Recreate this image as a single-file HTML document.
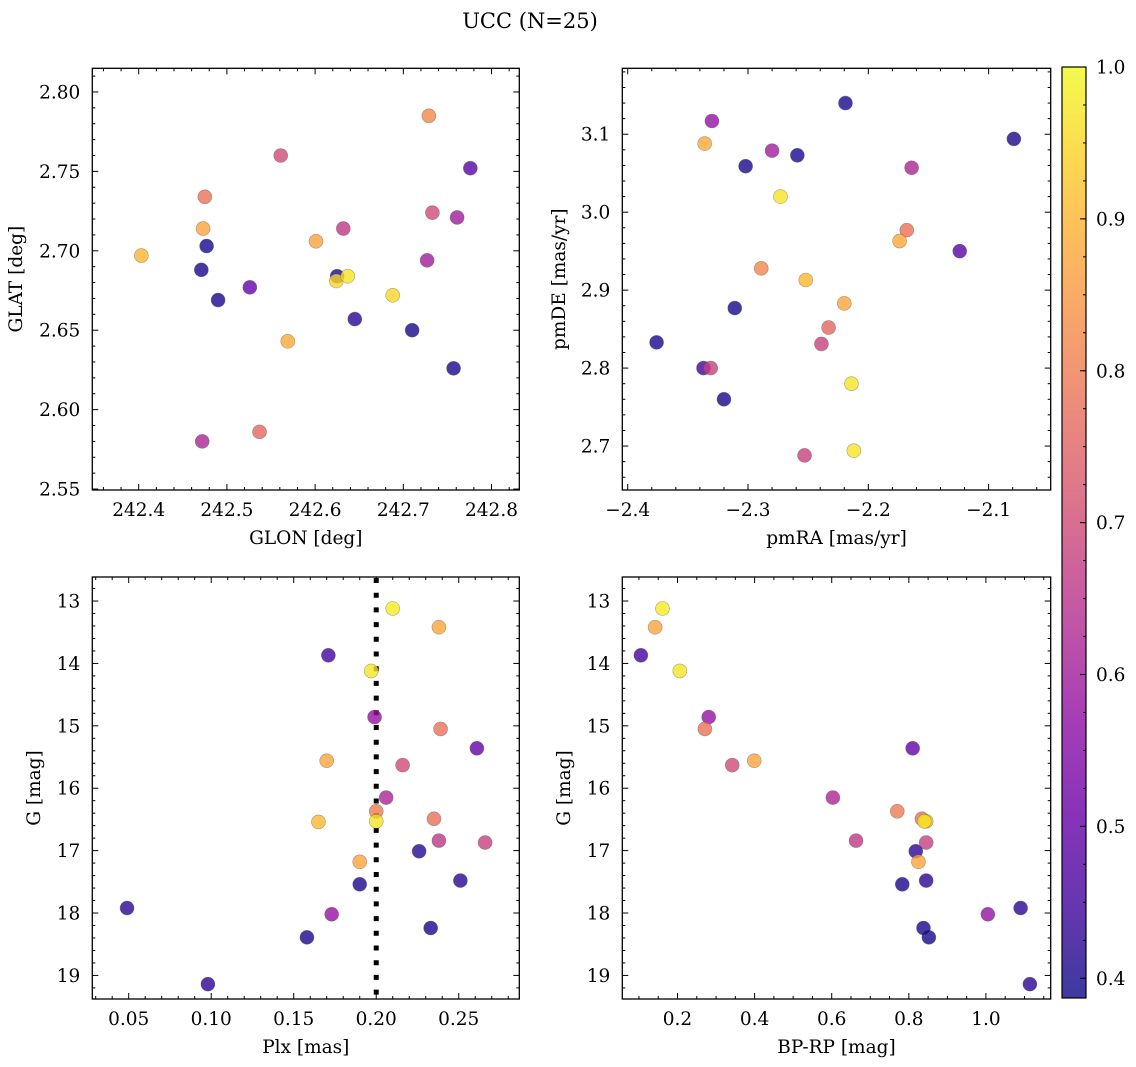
<!DOCTYPE html>
<html><head><meta charset="utf-8">
<style>
html,body{margin:0;padding:0;background:#fff;}
svg{display:block;font-family:"DejaVu Serif","Liberation Serif",serif;}
</style></head>
<body>
<svg id="fig" width="1136" height="1067" viewBox="0 0 1136 1067" xmlns="http://www.w3.org/2000/svg">
<text x="530" y="28" text-anchor="middle" font-size="21">UCC (N=25)</text>
</svg>
<script>
// ---- data ----
const p1Glon = [242.729,242.561,242.776,242.475,242.733,242.761,242.473,242.632,242.477,242.601,242.403,242.727,242.471,242.625,242.624,242.637,242.526,242.490,242.688,242.645,242.710,242.569,242.757,242.537,242.472];
const p1Glat = [2.785,2.760,2.752,2.734,2.724,2.721,2.714,2.714,2.703,2.706,2.697,2.694,2.688,2.684,2.681,2.684,2.677,2.669,2.672,2.657,2.650,2.643,2.626,2.586,2.580];
const p1Prob = [0.82,0.70,0.48,0.78,0.70,0.60,0.87,0.66,0.40,0.87,0.90,0.60,0.40,0.40,0.95,0.97,0.50,0.40,0.95,0.42,0.40,0.88,0.40,0.76,0.62];

const p2Pmra = [-2.219,-2.330,-2.336,-2.280,-2.259,-2.302,-2.079,-2.164,-2.273,-2.168,-2.174,-2.124,-2.289,-2.252,-2.220,-2.311,-2.233,-2.239,-2.376,-2.337,-2.331,-2.320,-2.214,-2.253,-2.212];
const p2Pmde = [3.140,3.117,3.088,3.079,3.073,3.059,3.094,3.057,3.020,2.977,2.963,2.950,2.928,2.913,2.883,2.877,2.852,2.831,2.833,2.800,2.800,2.760,2.780,2.688,2.694];
const p2Prob = [0.40,0.58,0.88,0.60,0.40,0.40,0.40,0.62,0.97,0.78,0.88,0.48,0.82,0.90,0.87,0.40,0.76,0.68,0.40,0.45,0.68,0.40,0.97,0.68,0.97];

const p3Plx = [0.210,0.238,0.171,0.197,0.199,0.239,0.261,0.170,0.216,0.206,0.200,0.200,0.165,0.235,0.238,0.266,0.226,0.190,0.190,0.251,0.049,0.173,0.158,0.233,0.098];
const p3G = [13.12,13.42,13.87,14.12,14.86,15.05,15.36,15.56,15.63,16.15,16.37,16.53,16.54,16.49,16.84,16.87,17.01,17.18,17.54,17.48,17.92,18.02,18.39,18.24,19.14];
const p3Prob = [0.98,0.87,0.45,0.97,0.58,0.78,0.50,0.87,0.70,0.62,0.80,0.97,0.90,0.78,0.66,0.68,0.42,0.87,0.40,0.42,0.42,0.58,0.40,0.40,0.42];

const p4Bprp = [0.161,0.142,0.105,0.206,0.281,0.271,0.810,0.342,0.399,0.603,0.770,0.834,0.845,0.840,0.663,0.845,0.818,0.825,0.783,0.845,1.090,1.005,0.852,0.838,1.114];
const p4G = [13.12,13.42,13.87,14.12,14.86,15.05,15.36,15.63,15.56,16.15,16.37,16.49,16.53,16.53,16.84,16.87,17.01,17.18,17.54,17.48,17.92,18.02,18.39,18.24,19.14];
const p4Prob = [0.98,0.87,0.45,0.97,0.58,0.78,0.50,0.70,0.87,0.62,0.80,0.78,0.90,0.97,0.66,0.68,0.42,0.87,0.40,0.42,0.42,0.58,0.40,0.40,0.42];

const plxLine = [0.2];
const cbTicks = [0.4,0.5,0.6,0.7,0.8,0.9,1.0];
const cbMin = 0.387, cbMax = 1.0;

// ---- helpers ----
const NS = "http://www.w3.org/2000/svg";
const svg = document.getElementById('fig');
const TF = 18.5, AF = 18.5;
function mk(tag, attrs, parent){
  const e = document.createElementNS(NS, tag);
  for (const k in attrs) e.setAttribute(k, attrs[k]);
  (parent||svg).appendChild(e);
  return e;
}
const plasma = [[13,8,135],[65,4,157],[106,0,168],[143,13,164],[177,42,144],[204,71,120],[225,100,98],[242,132,75],[252,166,54],[252,206,37],[240,249,33]];
function cmap(v){
  let t = (v-cbMin)/(cbMax-cbMin); t=Math.max(0,Math.min(1,t));
  const f = t*10, i = Math.min(9, Math.floor(f)), r = f-i;
  const a = plasma[i], b = plasma[i+1];
  return 'rgb('+a.map((c,k)=>Math.round(c+(b[k]-c)*r)).join(',')+')';
}
function fmt(v, d){ let s = v.toFixed(d); if (v<0) s = '\u2212'+s.slice(1); return s; }

function panel(cfg){
  const g = mk('g', {});
  
  
  const L=cfg.L,R=cfg.R,T=cfg.T,B=cfg.B;
  const sx = v => L + (v-cfg.x0)/(cfg.x1-cfg.x0)*(R-L);
  const sy = cfg.invY ? (v => T + (v-cfg.y0)/(cfg.y1-cfg.y0)*(B-T)) : (v => B - (v-cfg.y0)/(cfg.y1-cfg.y0)*(B-T));
  const xlo=Math.min(cfg.x0,cfg.x1), xhi=Math.max(cfg.x0,cfg.x1);
  const ylo=Math.min(cfg.y0,cfg.y1), yhi=Math.max(cfg.y0,cfg.y1);
  const tg = mk('g', {stroke:'#000','stroke-width':1}, g);
  
  
  for (let k=Math.ceil(xlo/cfg.xmin-1e-6); k*cfg.xmin<=xhi+1e-9; k++){
    const v=k*cfg.xmin, x=sx(v);
    const major = Math.abs(v/cfg.xmaj - Math.round(v/cfg.xmaj))<1e-6;
    const len = major?6:3;
    mk('line',{x1:x,x2:x,y1:B,y2:B-len},tg); mk('line',{x1:x,x2:x,y1:T,y2:T+len},tg);
    if (major){
      const t = mk('text',{x:x,y:B+26,'text-anchor':'middle','font-size':TF,stroke:'none'},g);
       
      t.textContent = fmt(v, cfg.xd);
    }
  }
  for (let k=Math.ceil(ylo/cfg.ymin-1e-6); k*cfg.ymin<=yhi+1e-9; k++){
    const v=k*cfg.ymin, y=sy(v);
    const major = Math.abs(v/cfg.ymaj - Math.round(v/cfg.ymaj))<1e-6;
    const len = major?6:3;
    mk('line',{x1:L,x2:L+len,y1:y,y2:y},tg); mk('line',{x1:R,x2:R-len,y1:y,y2:y},tg);
    if (major){
      const t = mk('text',{x:L-12,y:y+6.5,'text-anchor':'end','font-size':TF},g);
       
      t.textContent = fmt(v, cfg.yd);
    }
  }
  const xl = mk('text',{x:(L+R)/2,y:B+54,'text-anchor':'middle','font-size':AF},g);
   
  xl.textContent = cfg.xlabel;
  const yl = mk('text',{x:cfg.ylx,y:(T+B)/2,'text-anchor':'middle','font-size':AF,transform:'rotate(-90 '+cfg.ylx+' '+(T+B)/2+')'},g);
   
  yl.textContent = cfg.ylabel;
  if (cfg.vline){
    cfg.vline.forEach(v=>{
      const l = mk('line',{x1:sx(v),x2:sx(v),y1:T+1,y2:B,stroke:'#000','stroke-width':5,'stroke-dasharray':'5 9.7'},g);
       
    });
  }
  for (let i=0;i<cfg.xs.length;i++){
    const c = mk('circle',{cx:sx(cfg.xs[i]),cy:sy(cfg.ys[i]),r:7,fill:cmap(cfg.cs[i]),'fill-opacity':0.8,stroke:'#555','stroke-opacity':0.5,'stroke-width':0.6},g);
     
  }
  const fr = mk('rect',{x:L,y:T,width:R-L,height:B-T,fill:'none',stroke:'#000','stroke-width':1.3},g);
   
}

panel({name:'glon-glat-panel',L:92.3,R:519.3,T:68.3,B:490,x0:242.3474,x1:242.8315,y0:2.5494,y1:2.8149,
  xmaj:0.1,xmin:0.02,ymaj:0.05,ymin:0.01,xd:1,yd:2,xlabel:'GLON [deg]',ylabel:'GLAT [deg]',ylx:22,
  xs:p1Glon,ys:p1Glat,cs:p1Prob});
panel({name:'pm-panel',L:622.3,R:1050.7,T:68.3,B:490,x0:-2.4045,x1:-2.0484,y0:2.6436,y1:3.1846,
  xmaj:0.1,xmin:0.02,ymaj:0.1,ymin:0.02,xd:1,yd:1,xlabel:'pmRA [mas/yr]',ylabel:'pmDE [mas/yr]',ylx:565,
  xs:p2Pmra,ys:p2Pmde,cs:p2Prob});
panel({name:'plx-g-panel',L:92.3,R:519.3,T:577,B:999,x0:0.02794,x1:0.2867,y0:12.615,y1:19.378,invY:true,
  xmaj:0.05,xmin:0.01,ymaj:1,ymin:0.2,xd:2,yd:0,xlabel:'Plx [mas]',ylabel:'G [mag]',ylx:40,
  xs:p3Plx,ys:p3G,cs:p3Prob,vline:plxLine});
panel({name:'cmd-panel',L:622.3,R:1050.7,T:577,B:999,x0:0.0568,x1:1.168,y0:12.615,y1:19.378,invY:true,
  xmaj:0.2,xmin:0.05,ymaj:1,ymin:0.2,xd:1,yd:0,xlabel:'BP-RP [mag]',ylabel:'G [mag]',ylx:570,
  xs:p4Bprp,ys:p4G,cs:p4Prob});

// colorbar
(function(){
  const L=1062,R=1086,T=67,B=998;
  const g = mk('g',{});
   
  const defs = mk('defs',{},g);
  const lg = mk('linearGradient',{id:'cbg',x1:0,y1:1,x2:0,y2:0},defs);
  for (let i=0;i<=20;i++){
    const v = cbMin + (cbMax-cbMin)*i/20;
    mk('stop',{offset:i/20,'stop-color':cmap(v),'stop-opacity':0.8},lg);
  }
  const r = mk('rect',{x:L,y:T,width:R-L,height:B-T,fill:'url(#cbg)',stroke:'#000','stroke-width':1.2},g);
   
  const sy = v => B - (v-cbMin)/(cbMax-cbMin)*(B-T);
  for (let k=Math.ceil(cbMin/0.025); k*0.025<=cbMax+1e-9; k++){
    const y=sy(k*0.025);
    mk('line',{x1:R,x2:R-3,y1:y,y2:y,stroke:'#000','stroke-width':1},g);
  }
  cbTicks.forEach(v=>{
    const y=sy(v);
    mk('line',{x1:R,x2:R-6,y1:y,y2:y,stroke:'#000','stroke-width':1},g);
    const t = mk('text',{x:R+10,y:y+6.5,'font-size':TF},g);
     
    t.textContent = v.toFixed(1);
  });
})();
</script>
</body></html>
